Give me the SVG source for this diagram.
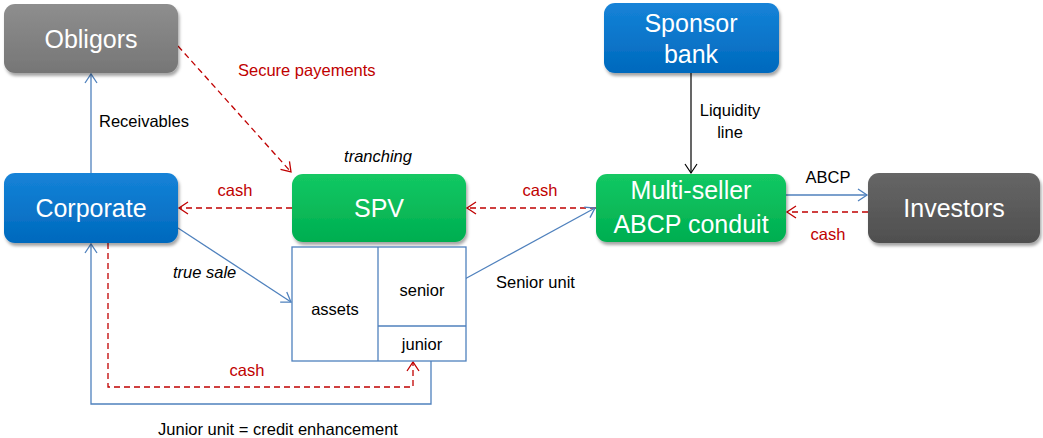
<svg xmlns="http://www.w3.org/2000/svg" width="1043" height="438" viewBox="0 0 1043 438">
<style>
.node text{font-family:"Liberation Sans",Arial,sans-serif;font-size:25px;fill:#fff;text-anchor:middle}
.lbl{font-family:"Liberation Sans",Arial,sans-serif;font-size:16.5px;fill:#000}
.red{fill:#c00000}
.it{font-style:italic}
.mid{text-anchor:middle}
.blue{fill:none;stroke:#4f81bd;stroke-width:1.3}
.dash{fill:none;stroke:#c00000;stroke-width:1.3;stroke-dasharray:6 4}
.blk{fill:none;stroke:#000;stroke-width:1.2}
.box{fill:#fff;stroke:#4f81bd;stroke-width:1.3}
</style>
<defs>
<filter id="sh" x="-10%" y="-10%" width="125%" height="135%"><feDropShadow dx="1.5" dy="3" stdDeviation="1.8" flood-color="#000" flood-opacity="0.35"/></filter>
<linearGradient id="gBlue" x1="0" y1="0" x2="0" y2="1"><stop offset="0" stop-color="#1583d8"/><stop offset="1" stop-color="#0069bd"/></linearGradient>
<linearGradient id="gGreen" x1="0" y1="0" x2="0" y2="1"><stop offset="0" stop-color="#13c863"/><stop offset="1" stop-color="#00ae50"/></linearGradient>
<linearGradient id="gGray" x1="0" y1="0" x2="0" y2="1"><stop offset="0" stop-color="#8e8e8e"/><stop offset="1" stop-color="#767676"/></linearGradient>
<linearGradient id="gDark" x1="0" y1="0" x2="0" y2="1"><stop offset="0" stop-color="#666"/><stop offset="1" stop-color="#4f4f4f"/></linearGradient>
<marker id="aB" markerWidth="12" markerHeight="14" refX="10" refY="7" orient="auto" markerUnits="userSpaceOnUse"><path d="M1,1 L10,7 L1,13" fill="none" stroke="#4f81bd" stroke-width="1.3"/></marker>
<marker id="aR" markerWidth="12" markerHeight="14" refX="10" refY="7" orient="auto" markerUnits="userSpaceOnUse"><path d="M1,1 L10,7 L1,13" fill="none" stroke="#c00000" stroke-width="1.3"/></marker>
<marker id="aK" markerWidth="12" markerHeight="14" refX="10" refY="7" orient="auto" markerUnits="userSpaceOnUse"><path d="M1,1 L10,7 L1,13" fill="none" stroke="#000" stroke-width="1.2"/></marker>
</defs>
<rect width="1043" height="438" fill="#fff"/>

<g id="connectors">
<line class="blue" x1="91" y1="173" x2="91" y2="74" marker-end="url(#aB)"/>
<line class="dash" x1="178" y1="46" x2="291" y2="172" marker-end="url(#aR)"/>
<line class="dash" x1="292" y1="208" x2="179" y2="208" marker-end="url(#aR)"/>
<line class="blue" x1="178" y1="228" x2="291" y2="302" marker-end="url(#aB)"/>
<line class="dash" x1="596" y1="208" x2="467" y2="208" marker-end="url(#aR)"/>
<line class="blue" x1="463" y1="280" x2="595" y2="208" marker-end="url(#aB)"/>
<line class="blk" x1="691" y1="73" x2="691" y2="173" marker-end="url(#aK)"/>
<line class="blue" x1="786" y1="195" x2="867" y2="195" marker-end="url(#aB)"/>
<line class="dash" x1="868" y1="212" x2="787" y2="212" marker-end="url(#aR)"/>
<polyline class="blue" points="431,361 431,404 91,404 91,244" marker-end="url(#aB)"/>
<polyline class="dash" points="108,243 108,387 413,387 413,362" marker-end="url(#aR)"/>
</g>

<g id="obligors" class="node"><rect x="4" y="4" width="174" height="69" rx="11" fill="url(#gGray)" filter="url(#sh)"/><text x="91" y="48">Obligors</text></g>
<g id="corporate" class="node"><rect x="4" y="173" width="174" height="70" rx="11" fill="url(#gBlue)" filter="url(#sh)"/><text x="91" y="217">Corporate</text></g>
<g id="spv" class="node"><rect x="292" y="174" width="174" height="68" rx="11" fill="url(#gGreen)" filter="url(#sh)"/><text x="379" y="217">SPV</text></g>
<g id="sponsor-bank" class="node"><rect x="604" y="3" width="175" height="70" rx="11" fill="url(#gBlue)" filter="url(#sh)"/><text x="691" y="32">Sponsor</text><text x="691" y="63">bank</text></g>
<g id="conduit" class="node"><rect x="596" y="174" width="190" height="68" rx="11" fill="url(#gGreen)" filter="url(#sh)"/><text x="691" y="199">Multi-seller</text><text x="691" y="233">ABCP conduit</text></g>
<g id="investors" class="node"><rect x="868" y="173" width="172" height="70" rx="11" fill="url(#gDark)" filter="url(#sh)"/><text x="954" y="217">Investors</text></g>

<g id="tranches">
<rect class="box" x="292" y="247" width="174" height="114"/>
<line class="blue" x1="378" y1="247" x2="378" y2="361"/>
<line class="blue" x1="378" y1="326" x2="466" y2="326"/>
<text class="lbl mid" x="335" y="315">assets</text>
<text class="lbl mid" x="422" y="296">senior</text>
<text class="lbl mid" x="422" y="350">junior</text>
</g>

<g id="labels">
<text class="lbl" x="99" y="127">Receivables</text>
<text class="lbl red" x="238" y="76">Secure payements</text>
<text class="lbl it mid" x="378" y="162">tranching</text>
<text class="lbl red mid" x="235" y="196">cash</text>
<text class="lbl it" x="173" y="278">true sale</text>
<text class="lbl red mid" x="540" y="196">cash</text>
<text class="lbl" x="496" y="288">Senior unit</text>
<text class="lbl mid" x="730" y="116">Liquidity</text>
<text class="lbl mid" x="730" y="138">line</text>
<text class="lbl mid" x="828" y="183">ABCP</text>
<text class="lbl red mid" x="828" y="240">cash</text>
<text class="lbl red mid" x="247" y="376">cash</text>
<text class="lbl mid" x="278" y="435">Junior unit = credit enhancement</text>
</g>
</svg>
